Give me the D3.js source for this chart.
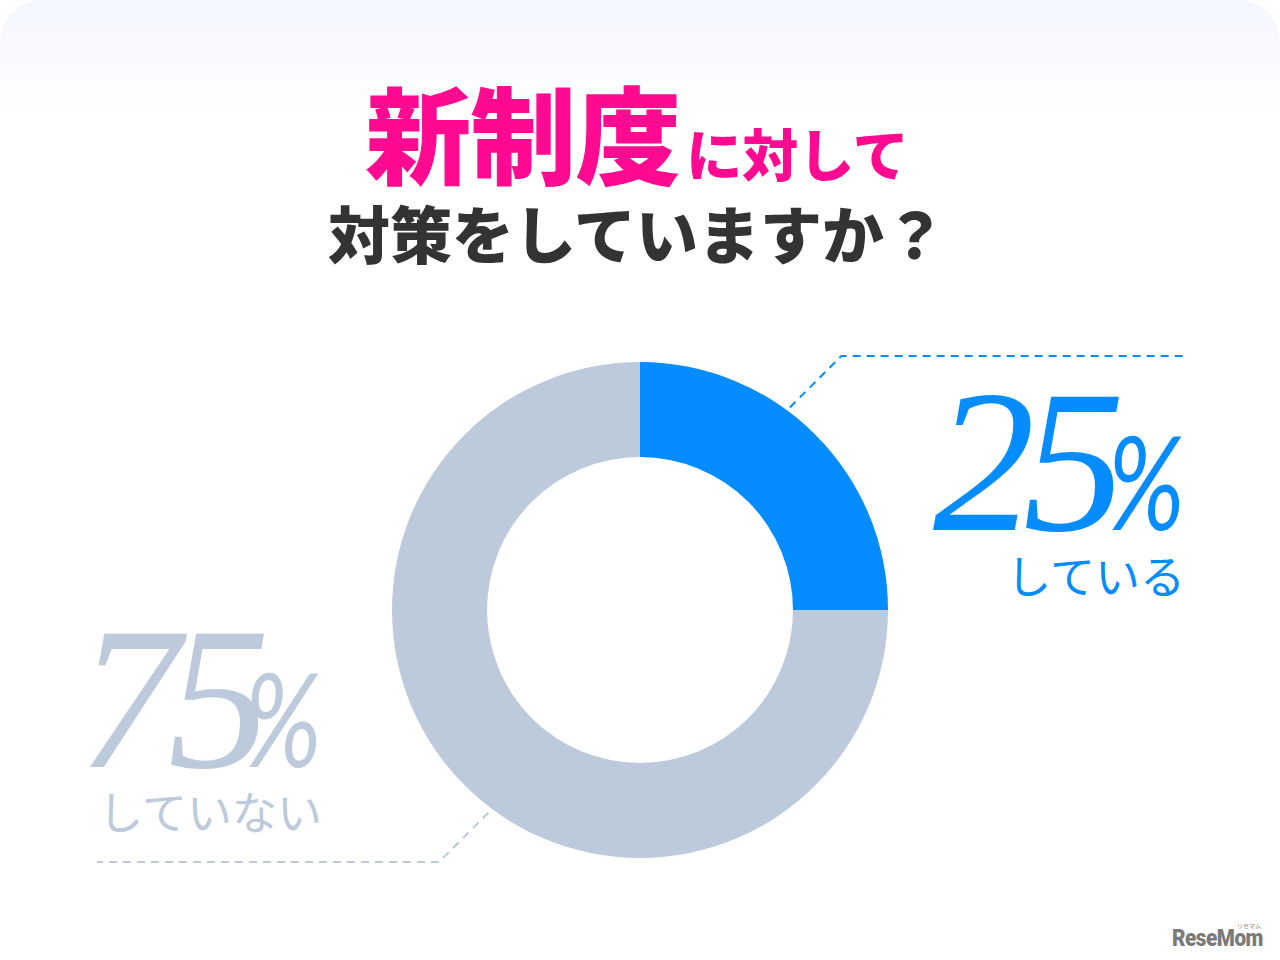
<!DOCTYPE html>
<html><head><meta charset="utf-8">
<script src="https://cdn.jsdelivr.net/npm/d3@7"></script>
<style>body{margin:0;background:#fff}svg{display:block}</style>
</head><body>
<svg id="c" width="1280" height="960"></svg>
<script>
const categories = ["している", "していない"];
const values = [25, 75];
const labels = ["25", "75"];
const colors = ["#058cff", "#bccadc"];
const titleMain = "新制度";
const titleSub = "に対して";
const titleLine2 = "対策をしていますか？";

const svg = d3.select("#c");
const W = 1280, H = 960;
const defs = svg.append("defs");
const g = defs.append("linearGradient").attr("id","bg").attr("x1",0).attr("y1",0).attr("x2",0).attr("y2",1);
g.append("stop").attr("offset","0").attr("stop-color","#f3f6fd");
g.append("stop").attr("offset","0.12").attr("stop-color","#ffffff");
svg.append("rect").attr("width",W).attr("height",H).attr("fill","#fff");
svg.append("rect").attr("x",0).attr("y",0).attr("width",W).attr("height",H+60).attr("rx",42).attr("fill","url(#bg)");

// Title
const t1 = svg.append("text").attr("x",637).attr("y",176).attr("text-anchor","middle")
  .attr("font-family","'Noto Sans CJK JP'").attr("font-weight",900).attr("fill","#ff0a91");
t1.append("tspan").attr("font-size",106).attr("letter-spacing",-1).text(titleMain);
t1.append("tspan").attr("font-size",56).attr("dx",6).text(titleSub);
svg.append("text").attr("x",637).attr("y",259).attr("text-anchor","middle")
  .attr("font-family","'Noto Sans CJK JP'").attr("font-weight",900).attr("font-size",62)
  .attr("fill","#333333").text(titleLine2);

// Donut
const cx = 640, cy = 610, rOut = 248, rIn = 153;
const pie = d3.pie().sort(null).value(d => d)(values);
const arc = d3.arc().innerRadius(rIn).outerRadius(rOut);
const gc = svg.append("g").attr("transform",`translate(${cx},${cy})`);
gc.selectAll("path").data(pie).join("path").attr("d",arc).attr("fill",(d,i)=>colors[i]);

// Leader lines
const pt = (a, r) => [cx + r*Math.sin(a), cy - r*Math.cos(a)];
const leaders = [
  {ang: 36.5*Math.PI/180, r: 252, dx: 1, end: 1185, lineY: 356, color: colors[0]},
  {ang: 216.8*Math.PI/180, r: 253, dx: -1, end: 97, lineY: 862, color: colors[1]}
];
leaders.forEach(l => {
  const p0 = pt(l.ang, l.r);
  const dy = Math.abs(l.lineY - p0[1]);
  const p1 = [p0[0] + l.dx*dy, l.lineY];
  svg.append("path").attr("d", d3.line()([p0, p1, [l.end, l.lineY]]))
    .attr("fill","none").attr("stroke",l.color).attr("stroke-width",2).attr("stroke-dasharray","8,6");
});

// Labels
function bigLabel(right, y, num, cat, color, subY, numShift) {
  svg.append("text").attr("transform",`translate(${right},${y}) scale(0.8,1)`)
    .attr("text-anchor","end").attr("fill",color)
    .attr("font-family","'Lato', sans-serif").attr("font-weight",400).attr("font-style","italic")
    .attr("font-size",130).text("%");
  svg.append("text").attr("x",right - numShift).attr("y",y).attr("text-anchor","end").attr("fill",color)
    .attr("font-family","'Liberation Serif', serif").attr("font-style","italic")
    .attr("font-size",204).attr("letter-spacing",-12).text(num);
  svg.append("text").attr("x",right).attr("y",subY).attr("text-anchor","end").attr("fill",color)
    .attr("font-family","'Noto Sans CJK JP'").attr("font-weight",400).attr("font-size",45)
    .attr("letter-spacing",0).text(cat);
}
bigLabel(1185, 530, labels[0], categories[0], colors[0], 594, 72);
bigLabel(322, 767, labels[1], categories[1], colors[1], 830, 64);

// Logo
svg.append("text").attr("transform","translate(1263,946) scale(0.9,1)").attr("text-anchor","end")
  .attr("font-family","'Roboto'").attr("font-weight",900).attr("font-size",23).attr("letter-spacing",-0.5)
  .attr("fill","#7a7a7a").text("ReseMom");
svg.append("text").attr("x",1261).attr("y",928).attr("text-anchor","end")
  .attr("font-family","'Noto Sans CJK JP'").attr("font-size",6).attr("fill","#888").text("リセマム");
</script>
</body></html>
